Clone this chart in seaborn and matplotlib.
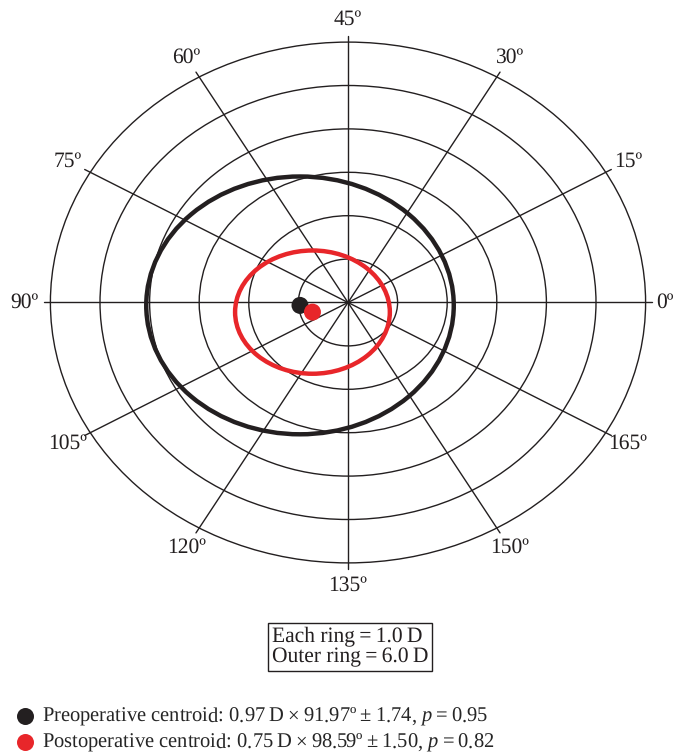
import numpy as np
import pandas as pd
import matplotlib
matplotlib.use("Agg")
import matplotlib.pyplot as plt
from matplotlib.patches import Ellipse, Circle
import seaborn as sns

# --- data ---
ring_radii = [1, 2, 3, 4, 5, 6]
axis_labels = [0, 15, 30, 45, 60, 75, 90, 105, 120, 135, 150, 165]
centroid_names = [
    "Preoperative centroid: 0.97\u2009D\u2009\u00d7\u200991.97\u00ba\u2009\u00b1\u20091.74, $p$\u2009=\u20090.95",
    "Postoperative centroid: 0.75\u2009D\u2009\u00d7\u200998.59\u00ba\u2009\u00b1\u20091.50, $p$\u2009=\u20090.82",
]
centroid_magnitude = [0.97, 0.75]
centroid_axis = [91.97, 98.59]
ellipse_half_width = [3.10, 1.56]
ellipse_half_height = [2.97, 1.42]
centroid_colors = ["#231f20", "#e8262a"]

# --- style ---
sns.set_style("white")
plt.rcParams["font.family"] = ["Liberation Serif", "DejaVu Serif"]
plt.rcParams["mathtext.fontset"] = "custom"
plt.rcParams["mathtext.rm"] = "Liberation Serif"
plt.rcParams["mathtext.it"] = "Liberation Serif:italic"
plt.rcParams["text.hinting"] = "no_hinting"

fig = plt.figure(figsize=(6.76, 7.54), dpi=100)
ax = fig.add_axes([0, 0, 1, 1])
ax.set_xlim(-348 / 49.6, 328 / 49.6)
ax.set_ylim((302.5 - 754) / 43.4, 302.5 / 43.4)
ax.set_axis_off()

# rings
for r in ring_radii:
    ax.add_patch(Circle((0, 0), r, fill=False, ec="#231f20", lw=1.0, zorder=1))

# spokes (double angle plot)
spoke_len = 6.13
for a in axis_labels:
    t = np.deg2rad(2 * a)
    ax.plot([0, spoke_len * np.cos(t)], [0, spoke_len * np.sin(t)],
            color="#231f20", lw=1.0, zorder=1)
    lr = 6.38 if a == 0 else 6.52
    ax.text(lr * np.cos(t), lr * np.sin(t), f"{a}\u00ba",
            ha="center", va="center", fontsize=15.5, color="#231f20")

# centroids
df = pd.DataFrame({
    "name": centroid_names,
    "x": [m * np.cos(np.deg2rad(2 * a)) for m, a in zip(centroid_magnitude, centroid_axis)],
    "y": [m * np.sin(np.deg2rad(2 * a)) for m, a in zip(centroid_magnitude, centroid_axis)],
})

for i, row in df.iterrows():
    ax.add_patch(Ellipse((row["x"], row["y"]), 2 * ellipse_half_width[i],
                         2 * ellipse_half_height[i], fill=False,
                         ec=centroid_colors[i], lw=3.2, zorder=2))

sns.scatterplot(data=df, x="x", y="y", hue="name", palette=centroid_colors,
                s=150, edgecolor="none", ax=ax, zorder=3)

ax.legend(loc="upper left", bbox_to_anchor=(0.003, 0.077), bbox_transform=fig.transFigure,
          frameon=False, fontsize=14.8, handletextpad=0.25, labelspacing=0.15,
          borderpad=0, handlelength=1.2, markerscale=1.0)

# ring size box
fig.text(350 / 676, 1 - 647 / 754, "Each ring\u2009=\u20091.0\u2009D\nOuter ring\u2009=\u20096.0\u2009D",
         ha="center", va="center", multialignment="left", fontsize=15.5, color="#231f20",
         linespacing=1.0,
         bbox=dict(boxstyle="square,pad=0.18", fc="white", ec="#231f20", lw=1.0))

fig.savefig("out.png", dpi=100)
